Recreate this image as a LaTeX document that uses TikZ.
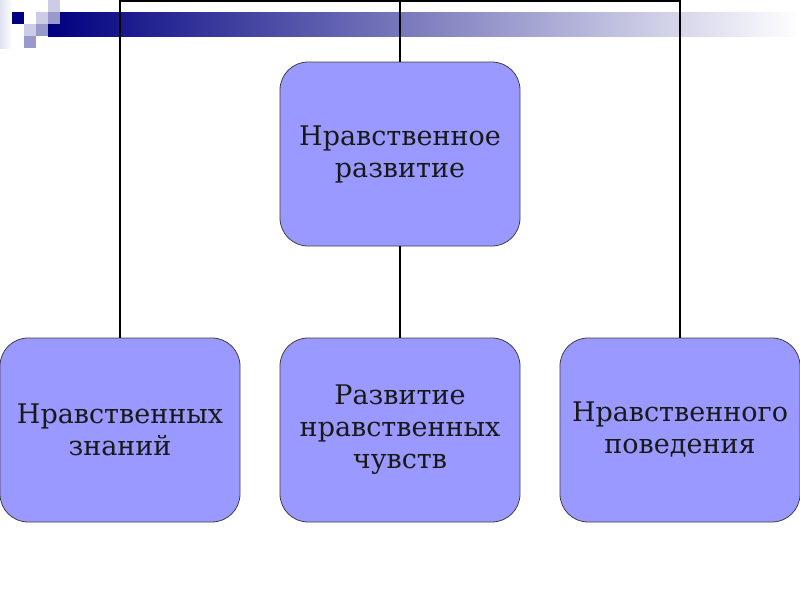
\documentclass[tikz,border=0pt]{standalone}
\usepackage{fontspec}
\setmainfont{DejaVu Serif}
\definecolor{boxfill}{HTML}{9999FF}
\definecolor{boxline}{HTML}{404040}
\definecolor{navybar}{HTML}{000080}
\definecolor{lightsq}{HTML}{CCCCE6}
\definecolor{medsq}{HTML}{9999CC}
\begin{document}
\begin{tikzpicture}[x=1pt,y=-1pt,
  box/.style={draw=boxline,line width=0.8pt,fill=boxfill,rounded corners=28pt,
    minimum width=240pt,minimum height=184pt,align=center,
    font=\fontsize{27}{32}\selectfont,text=black!90},
  link/.style={draw=black,line width=1.5pt}]
\useasboundingbox (0,0) rectangle (800,600);
\fill[white] (0,0) rectangle (800,600);
% decoration
\shade[left color=lightsq!60,right color=white] (0,0) rectangle (12,48);
\shade[left color=navybar,right color=white] (48,12) rectangle (800,36);
\fill[white] (48,12) rectangle (60,24);
\fill[navybar] (12,12) rectangle (24,24);
\fill[lightsq] (36,12) rectangle (48,24);
\fill[lightsq] (48,0) rectangle (60,12);
\fill[medsq] (48,12) rectangle (60,24);
\fill[lightsq] (24,24) rectangle (36,36);
\fill[medsq] (36,24) rectangle (48,36);
\fill[medsq] (24,36) rectangle (36,48);
% nodes
\node[box] (top) at (400,154) {Нравственное\\развитие};
\node[box] (left) at (120,430) {Нравственных\\знаний};
\node[box] (mid) at (400,430) {Развитие\\нравственных\\чувств};
\node[box] (right) at (680,430) {Нравственного\\поведения};
\coordinate (tp) at (400,1);
\coordinate (lc) at (120,1);
\coordinate (rc) at (680,1);
% connectors
\draw[link] (top.north) -- (tp);
\draw[link] (left.north) -- (lc) -- (rc) -- (right.north);
\draw[link] (top.south) -- (mid.north);
\end{tikzpicture}
\end{document}
